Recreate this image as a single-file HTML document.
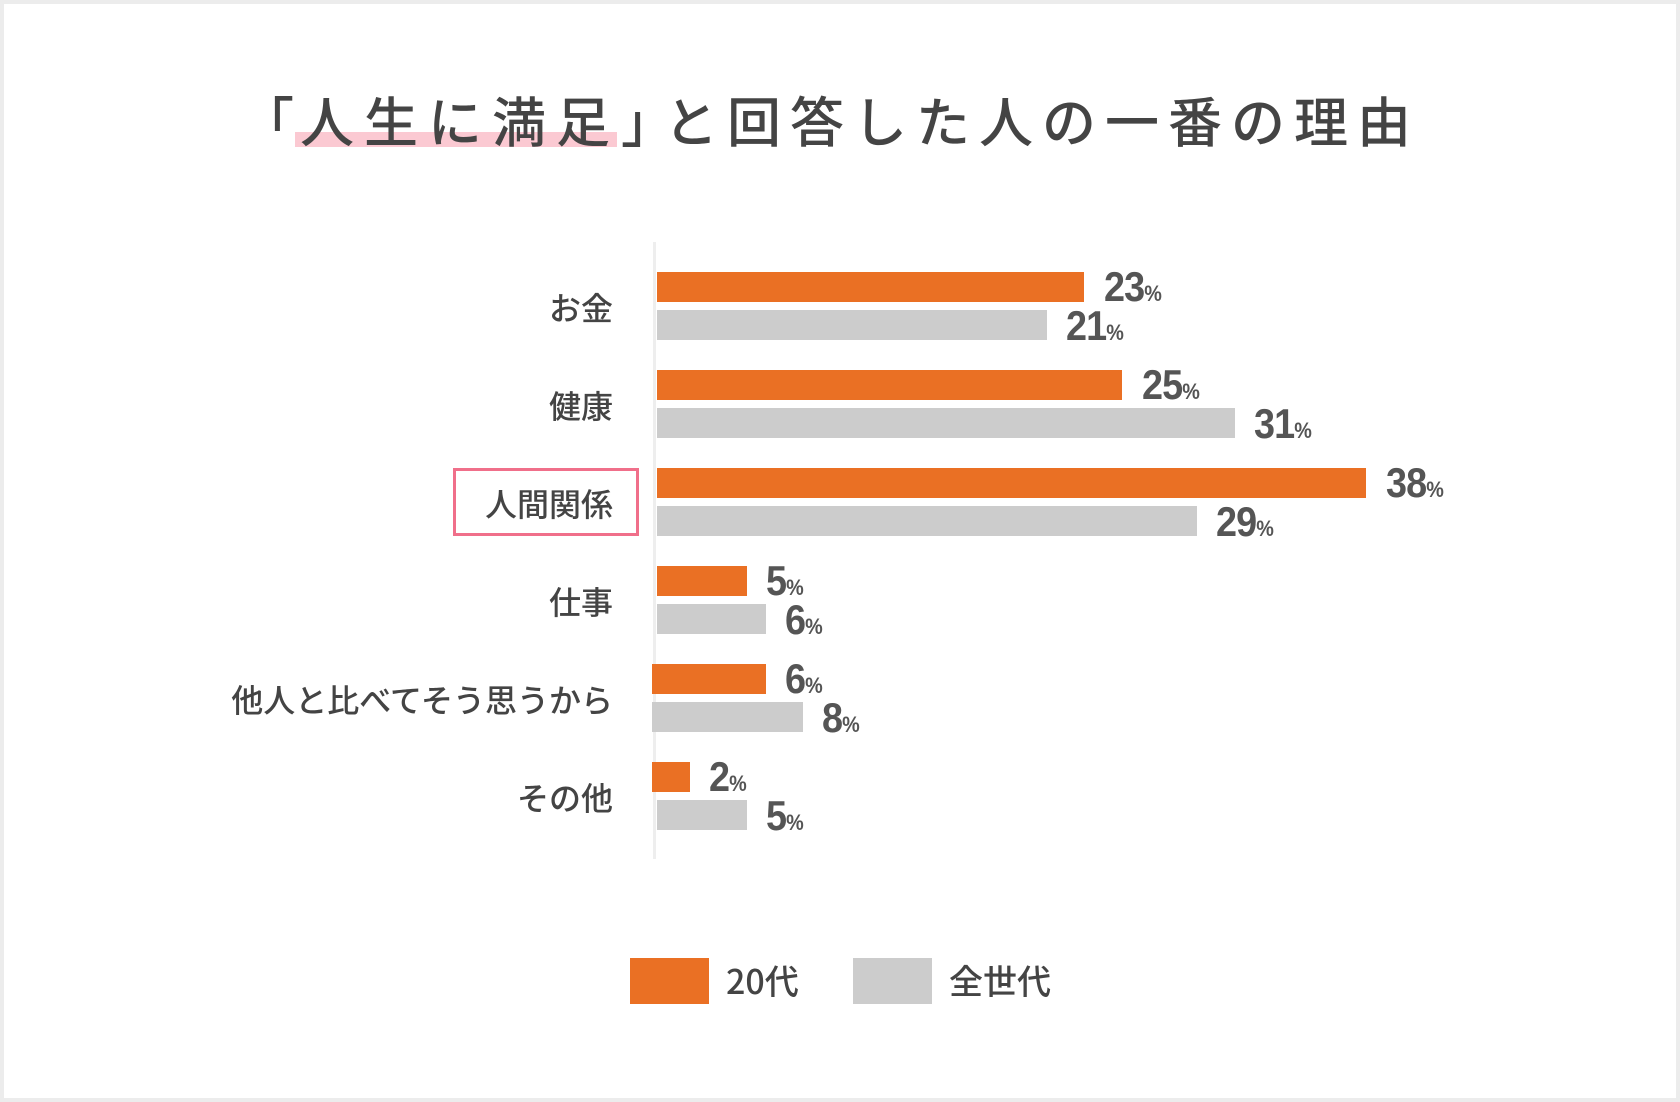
<!DOCTYPE html>
<html><head><meta charset="utf-8"><style>
body{margin:0;width:1680px;height:1102px;background:#fff;position:relative;overflow:hidden;font-family:"Liberation Sans","Noto Sans CJK JP",sans-serif;color:#444}
.frame{position:absolute;left:0;top:0;width:1672px;height:1094px;border:4px solid #ececec}
.t{position:absolute;white-space:nowrap}
.tt{position:absolute;white-space:nowrap;top:86px;font-size:54px;line-height:66px;font-family:'Noto Sans CJK JP',sans-serif;font-weight:500;color:#444}
.b{position:absolute;height:30px}
.o{background:#ea7024}.g{background:#cccccc}
.v{position:absolute;font-weight:bold;color:#555;font-size:42px;line-height:30px;height:30px;transform:scaleX(0.9);transform-origin:left bottom;letter-spacing:-1px}
.v small{font-size:22px;letter-spacing:0}
.lab{position:absolute;right:1067px;font-size:32px;line-height:40px;font-family:"Noto Sans CJK JP",sans-serif;font-weight:500;color:#444}
</style></head><body>
<div class="frame"></div>
<div style="position:absolute;left:295px;top:132px;width:322px;height:15px;background:#fbc9d2"></div>
<div class="tt" style="left:240px">「</div>
<div class="tt" style="left:300px;letter-spacing:10px">人生に満足</div>
<div class="tt" style="left:621px">」</div>
<div class="tt" style="left:664px;letter-spacing:9px">と回答した人の一番の理由</div>
<div style="position:absolute;left:653px;top:242px;width:3px;height:617px;background:#eee"></div>

<div class="lab" style="top:287px">お金</div>
<div class="lab" style="top:385px">健康</div>
<div style="position:absolute;left:453px;top:468px;width:180px;height:62px;border:3px solid #f06f8a"></div>
<div class="lab" style="top:483px">人間関係</div>
<div class="lab" style="top:581px">仕事</div>
<div class="lab" style="top:679px">他人と比べてそう思うから</div>
<div class="lab" style="top:777px">その他</div>

<div class="b o" style="left:657px;top:272px;width:427px"></div>
<div class="b g" style="left:657px;top:310px;width:390px"></div>
<div class="b o" style="left:657px;top:370px;width:465px"></div>
<div class="b g" style="left:657px;top:408px;width:578px"></div>
<div class="b o" style="left:657px;top:468px;width:709px"></div>
<div class="b g" style="left:657px;top:506px;width:540px"></div>
<div class="b o" style="left:657px;top:566px;width:90px"></div>
<div class="b g" style="left:657px;top:604px;width:109px"></div>
<div class="b o" style="left:652px;top:664px;width:114px"></div>
<div class="b g" style="left:652px;top:702px;width:151px"></div>
<div class="b o" style="left:652px;top:762px;width:38px"></div>
<div class="b g" style="left:657px;top:800px;width:90px"></div>

<div class="v" style="left:1104px;top:272px">23<small>%</small></div>
<div class="v" style="left:1066px;top:311px">21<small>%</small></div>
<div class="v" style="left:1142px;top:370px">25<small>%</small></div>
<div class="v" style="left:1254px;top:409px">31<small>%</small></div>
<div class="v" style="left:1386px;top:468px">38<small>%</small></div>
<div class="v" style="left:1216px;top:507px">29<small>%</small></div>
<div class="v" style="left:766px;top:566px">5<small>%</small></div>
<div class="v" style="left:785px;top:605px">6<small>%</small></div>
<div class="v" style="left:785px;top:664px">6<small>%</small></div>
<div class="v" style="left:822px;top:703px">8<small>%</small></div>
<div class="v" style="left:709px;top:762px">2<small>%</small></div>
<div class="v" style="left:766px;top:801px">5<small>%</small></div>

<div style="position:absolute;left:630px;top:958px;width:79px;height:46px;background:#ea7024"></div>
<div class="t" style="left:726px;top:959px;font-size:34px;line-height:42px;font-family:'Noto Sans CJK JP',sans-serif;font-weight:500">20代</div>
<div style="position:absolute;left:853px;top:958px;width:79px;height:46px;background:#cccccc"></div>
<div class="t" style="left:949px;top:959px;font-size:34px;line-height:42px;font-family:'Noto Sans CJK JP',sans-serif;font-weight:500">全世代</div>
</body></html>
